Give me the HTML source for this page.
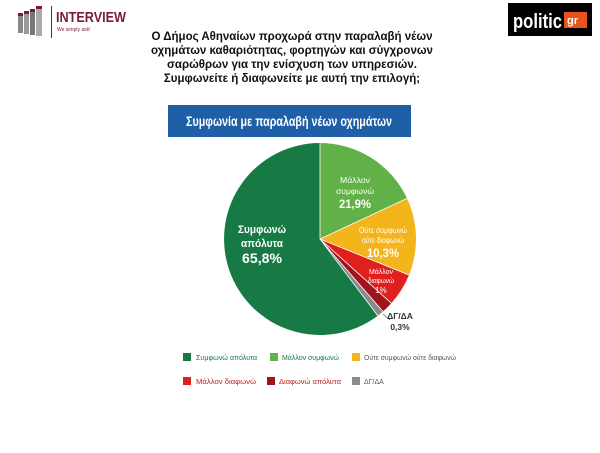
<!DOCTYPE html>
<html><head><meta charset="utf-8"><style>
body{margin:0;width:600px;height:448px;background:#fff;overflow:hidden;font-family:"Liberation Sans",sans-serif}
</style></head><body>
<svg width="600" height="448" xmlns="http://www.w3.org/2000/svg" font-family="Liberation Sans, sans-serif">
<g>
<rect x="18" y="15" width="5" height="18" fill="#888"/><rect x="24" y="13" width="5" height="21" fill="#999"/>
<rect x="30" y="11" width="5" height="24" fill="#777"/><rect x="36" y="8" width="6" height="28" fill="#aaa"/>
<rect x="18" y="13" width="5" height="3" fill="#7a1a3a"/><rect x="24" y="11" width="5" height="3" fill="#7a1a3a"/>
<rect x="30" y="9" width="5" height="3" fill="#7a1a3a"/><rect x="36" y="6" width="6" height="3" fill="#7a1a3a"/>
<rect x="51" y="6" width="1" height="32" fill="#7a1a3a"/>
<text x="56" y="22" font-size="15" font-weight="bold" fill="#7a1a3a" textLength="70" lengthAdjust="spacingAndGlyphs">INTERVIEW</text>
<text x="57" y="31" font-size="5" fill="#7a1a3a">We simply ask!</text>
</g>
<rect x="508" y="3" width="84" height="33" fill="#000"/>
<text x="513" y="28" font-size="20" font-weight="bold" fill="#fff" textLength="49" lengthAdjust="spacingAndGlyphs">politic</text>
<rect x="564" y="12" width="23" height="16" fill="#e8541e"/>
<text x="567" y="24" font-size="11" font-weight="bold" fill="#fff">gr</text>
<g font-size="11.5" font-weight="bold" fill="#111" text-anchor="middle">
<text x="292" y="40">Ο Δήμος Αθηναίων προχωρά στην παραλαβή νέων</text>
<text x="292" y="54">οχημάτων καθαριότητας, φορτηγών και σύγχρονων</text>
<text x="292" y="68">σαρώθρων για την ενίσχυση των υπηρεσιών.</text>
<text x="292" y="82">Συμφωνείτε ή διαφωνείτε με αυτή την επιλογή;</text>
</g>
<rect x="168" y="105" width="243" height="32" fill="#1f5fa8"/>
<text x="186" y="126" font-size="14" fill="#fff" font-weight="bold" textLength="206" lengthAdjust="spacingAndGlyphs">Συμφωνία με παραλαβή νέων οχημάτων</text>
<path d="M320,239 L320,143 A96,96 0 0 1 407,198.4 Z" fill="#62b048"/>
<path d="M320,239 L407,198.4 A96,96 0 0 1 409,275 Z" fill="#f4b51c"/>
<path d="M320,239 L409,275 A96,96 0 0 1 391.3,303.2 Z" fill="#e0201e"/>
<path d="M320,239 L391.3,303.2 A96,96 0 0 1 383,311.5 Z" fill="#a3131c"/>
<path d="M320,239 L383,311.5 A96,96 0 0 1 377.8,315.7 Z" fill="#8a8a8a"/>
<path d="M320,239 L377.8,315.7 A96,96 0 1 1 320,143 Z" fill="#177a45"/>
<g stroke="#fff" stroke-width="0.8"><line x1="320" y1="239" x2="320" y2="143"/><line x1="320" y1="239" x2="407" y2="198.4"/><line x1="320" y1="239" x2="409" y2="275"/><line x1="320" y1="239" x2="391.3" y2="303.2"/><line x1="320" y1="239" x2="383" y2="311.5"/><line x1="320" y1="239" x2="377.8" y2="315.7"/></g>
<g fill="#fff" text-anchor="middle" font-weight="bold">
<text x="262" y="233" font-size="11" textLength="48" lengthAdjust="spacingAndGlyphs">Συμφωνώ</text>
<text x="262" y="247" font-size="11" textLength="42" lengthAdjust="spacingAndGlyphs">απόλυτα</text>
<text x="262" y="263" font-size="14" textLength="40" lengthAdjust="spacingAndGlyphs">65,8%</text>
<text x="355" y="183" font-size="8.5" font-weight="normal" textLength="30" lengthAdjust="spacingAndGlyphs">Μάλλον</text>
<text x="355" y="194" font-size="8.5" font-weight="normal" textLength="38" lengthAdjust="spacingAndGlyphs">συμφωνώ</text>
<text x="355" y="208" font-size="12" textLength="32" lengthAdjust="spacingAndGlyphs">21,9%</text>
<text x="383" y="233" font-size="8" font-weight="normal" textLength="48" lengthAdjust="spacingAndGlyphs">Ούτε συμφωνώ</text>
<text x="383" y="243" font-size="8" font-weight="normal" textLength="42" lengthAdjust="spacingAndGlyphs">ούτε διαφωνώ</text>
<text x="383" y="257" font-size="12" textLength="32" lengthAdjust="spacingAndGlyphs">10,3%</text>
<text x="381" y="274" font-size="7.5" font-weight="normal" textLength="24" lengthAdjust="spacingAndGlyphs">Μάλλον</text>
<text x="381" y="283" font-size="7.5" font-weight="normal" textLength="26" lengthAdjust="spacingAndGlyphs">διαφωνώ</text>
<text x="381" y="293" font-size="8" font-weight="normal">1%</text>
</g>
<line x1="383" y1="314" x2="390" y2="320" stroke="#555" stroke-width="0.7"/>
<g fill="#333" font-size="8.5" font-weight="bold" text-anchor="middle"><text x="400" y="319">ΔΓ/ΔΑ</text><text x="400" y="330">0,3%</text></g>
<g font-size="7">
<rect x="183" y="353" width="8" height="8" fill="#177a45"/><text x="196" y="360" fill="#177a45" textLength="61" lengthAdjust="spacingAndGlyphs">Συμφωνώ απόλυτα</text>
<rect x="270" y="353" width="8" height="8" fill="#62b048"/><text x="282" y="360" fill="#177a45" textLength="57" lengthAdjust="spacingAndGlyphs">Μάλλον συμφωνώ</text>
<rect x="352" y="353" width="8" height="8" fill="#f4b51c"/><text x="364" y="360" fill="#555" textLength="92" lengthAdjust="spacingAndGlyphs">Ούτε συμφωνώ ούτε διαφωνώ</text>
<rect x="183" y="377" width="8" height="8" fill="#e0201e"/><text x="196" y="384" fill="#c0201e" textLength="60" lengthAdjust="spacingAndGlyphs">Μάλλον διαφωνώ</text>
<rect x="267" y="377" width="8" height="8" fill="#a3131c"/><text x="279" y="384" fill="#c0201e" textLength="62" lengthAdjust="spacingAndGlyphs">Διαφωνώ απόλυτα</text>
<rect x="352" y="377" width="8" height="8" fill="#8a8a8a"/><text x="364" y="384" fill="#555">ΔΓ/ΔΑ</text>
</g>
</svg>
</body></html>
